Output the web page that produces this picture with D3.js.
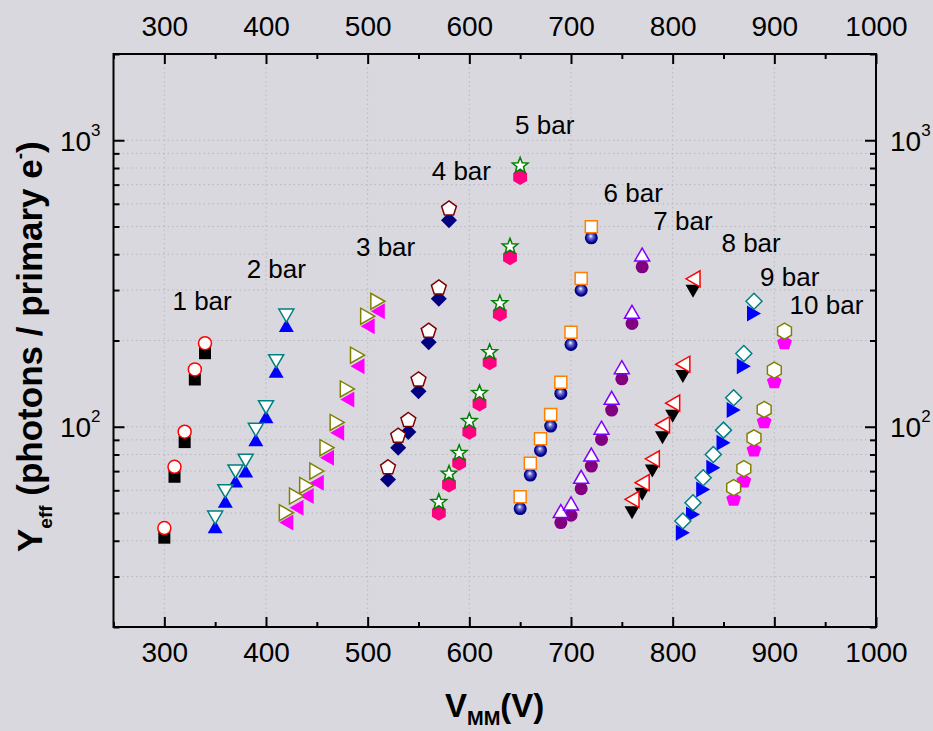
<!DOCTYPE html>
<html>
<head>
<meta charset="utf-8">
<script src="https://cdn.jsdelivr.net/npm/d3@7"></script>
<style>
    html, body { margin: 0; padding: 0; background: #d9d8df; }
    svg { display: block; font-family: "Liberation Sans", Arial, sans-serif; }
</style>
</head>
<body>
<svg id="sketchbook" width="933" height="731"></svg>
<script>
// ---- data ----
let pressures = ['1 bar', '2 bar', '3 bar', '4 bar', '5 bar', '6 bar', '7 bar', '8 bar', '9 bar', '10 bar'];

let voltages = [
    [300, 310, 320, 330, 340],
    [350, 360, 370, 380, 390, 400, 410, 420],
    [420, 430, 440, 450, 460, 470, 480, 490, 500, 510],
    [520, 530, 540, 550, 560, 570, 580],
    [570, 580, 590, 600, 610, 620, 630, 640, 650],
    [650, 660, 670, 680, 690, 700, 710, 720],
    [690, 700, 710, 720, 730, 740, 750, 760, 770],
    [760, 770, 780, 790, 800, 810, 820],
    [810, 820, 830, 840, 850, 860, 870, 880],
    [860, 870, 880, 890, 900, 910]
];

// open symbols (upper series)
let yieldOpen = [
    [44.3, 72.5, 96.1, 158.5, 195.7],
    [48.2, 59.6, 69.8, 76.1, 97.6, 117.0, 169.4, 244.5],
    [50.1, 57.3, 62.4, 70.0, 84.5, 103.5, 135.5, 177.7, 243.1, 274.2],
    [72.5, 93.5, 106.0, 147.0, 217.3, 307.7, 580.5],
    [55.0, 69.1, 81.6, 105.4, 132.0, 183.5, 272.0, 429.0, 822.0],
    [57.0, 74.5, 90.8, 110.4, 143.1, 213.8, 329.0, 498.5],
    [50.8, 54.0, 66.9, 80.0, 99.2, 126.2, 161.4, 251.8, 399.0],
    [55.8, 63.8, 77.3, 101.6, 120.9, 165.3, 328.2],
    [46.9, 54.3, 66.4, 80.0, 97.3, 126.2, 180.2, 274.2],
    [61.3, 71.4, 91.5, 114.9, 157.6, 215.5]
];

// filled symbols (lower series)
let yieldFilled = [
    [41.0, 66.9, 88.4, 146.2, 180.6],
    [44.8, 55.0, 64.6, 70.0, 90.1, 108.4, 156.3, 225.6],
    [46.3, 52.2, 57.3, 63.8, 78.0, 95.3, 124.5, 162.7, 224.3, 253.0],
    [65.5, 84.5, 95.8, 133.1, 197.3, 279.6, 525.6],
    [50.1, 62.9, 74.9, 96.1, 120.6, 168.0, 247.8, 390.5, 744.7],
    [51.8, 67.8, 82.7, 100.5, 130.7, 193.7, 299.5, 456.3],
    [46.3, 49.1, 60.8, 72.9, 90.3, 114.3, 147.0, 229.3, 361.5],
    [50.1, 58.1, 70.0, 91.5, 108.9, 149.7, 297.2],
    [42.7, 49.4, 60.4, 71.9, 87.9, 114.3, 162.7, 248.4],
    [56.1, 65.0, 83.3, 104.6, 144.2, 197.3]
];

// where each pressure label sits (V, Y)
let labelV = [308, 381, 488.5, 563, 645, 732, 781, 848, 886, 915];
let labelY = [256, 331, 394, 729, 1054, 609, 488, 406, 311, 248];

let xMajor = [300, 400, 500, 600, 700, 800, 900, 1000];
let xMinor = [250, 350, 450, 550, 650, 750, 850, 950];
let yMajor = [100, 1000];
let yMinor = [20, 30, 40, 50, 60, 70, 80, 90, 200, 300, 400, 500, 600, 700, 800, 900, 2000];
let yExp = ['2', '3'];

// ---- styles ----
let openShape   = ['circle', 'down', 'right', 'pentagon', 'star', 'square', 'up', 'left', 'diamond', 'hexagon'];
let openColor   = ['#ff0000', '#008080', '#808000', '#800000', '#008000', '#ff8000', '#8000ff', '#ff0000', '#008080', '#808000'];
let filledShape = ['square', 'up', 'left', 'diamond', 'hexagon', 'ball', 'circle', 'down', 'right', 'pentagon'];
let filledColor = ['#000000', '#0000ff', '#ff00ff', '#000080', '#ff0080', '#000080', '#800080', '#000000', '#0000ff', '#ff00ff'];

let W = 933, H = 731;
let L = 113.5, R = 876, T = 54, B = 627;
let FONT = '"Liberation Sans", Arial, sans-serif';

function poly (pts) {
    return 'M' + pts.map((p) => { return p[0].toFixed(2) + ',' + p[1].toFixed(2); }).join('L') + 'Z';
}
function regular (n, r, start) {
    let pts = [];
    for (var i = 0; i < n; i++) {
        let a = start + i * 2 * Math.PI / n;
        pts.push([r * Math.cos(a), r * Math.sin(a)]);
    }
    return pts;
}
function shapePath (type) {
    switch (type) {
        case 'circle':
        case 'ball':
            return 'M-6.5,0A6.5,6.5 0 1,0 6.5,0A6.5,6.5 0 1,0 -6.5,0Z';
        case 'square':
            return poly([[-6, -6], [6, -6], [6, 6], [-6, 6]]);
        case 'up':
            return poly([[0, -6.5], [7.5, 6.5], [-7.5, 6.5]]);
        case 'down':
            return poly([[0, 6.5], [7.5, -6.5], [-7.5, -6.5]]);
        case 'left':
            return poly([[-7, 0], [7, -8], [7, 8]]);
        case 'right':
            return poly([[7, 0], [-7, -8], [-7, 8]]);
        case 'diamond':
            return poly([[0, -8], [8, 0], [0, 8], [-8, 0]]);
        case 'pentagon':
            return poly(regular(5, 7.8, -Math.PI / 2).map((p) => { return [p[0], p[1] + 0.8]; }));
        case 'hexagon':
            return poly(regular(6, 8, -Math.PI / 2));
        case 'star':
            let pts = [];
            for (var i = 0; i < 10; i++) {
                let a = -Math.PI / 2 + i * Math.PI / 5;
                let r = (i % 2 === 0) ? 8.2 : 3.5;
                pts.push([r * Math.cos(a), r * Math.sin(a) + 1]);
            }
            return poly(pts);
    }
}

let svg = d3.select('#sketchbook');

let defs = svg.append('defs');
let grad = defs.append('radialGradient')
    .attr('id', 'ball')
    .attr('cx', '0.5').attr('cy', '0.5').attr('r', '0.55')
    .attr('fx', '0.45').attr('fy', '0.35');
grad.append('stop').attr('offset', '0').attr('stop-color', '#ffffff');
grad.append('stop').attr('offset', '0.3').attr('stop-color', '#6f6fd0');
grad.append('stop').attr('offset', '0.75').attr('stop-color', '#000090');
grad.append('stop').attr('offset', '1').attr('stop-color', '#000060');

svg.append('rect')
    .attr('width', W)
    .attr('height', H)
    .attr('fill', '#d9d8df');

let x = d3.scaleLinear().domain([250, 1000]).range([L, R]);
let y = d3.scaleLog().domain([20, 2000]).range([B, T]);

// ---- grid ----
let grid = svg.append('g').attr('class', 'grid');
grid.selectAll('line.gx')
    .data(xMajor.filter((d) => { return d < 1000; }))
    .enter()
    .append('line')
    .attr('class', 'gx')
    .attr('x1', (d) => { return x(d); })
    .attr('x2', (d) => { return x(d); })
    .attr('y1', T)
    .attr('y2', B)
    .attr('stroke', '#b8b8c0')
    .attr('stroke-width', 1)
    .attr('stroke-dasharray', '1.5,3');
grid.selectAll('line.gy')
    .data(yMajor.concat(yMinor).filter((d) => { return d > 20 && d < 2000; }))
    .enter()
    .append('line')
    .attr('class', 'gy')
    .attr('x1', L)
    .attr('x2', R)
    .attr('y1', (d) => { return y(d); })
    .attr('y2', (d) => { return y(d); })
    .attr('stroke', '#b8b8c0')
    .attr('stroke-width', 1)
    .attr('stroke-dasharray', '1.5,3');

// ---- axes (ticks pointing inward) ----
function tickAxis (axis, values, size, pad) {
    return axis.tickValues(values).tickSizeInner(-size).tickSizeOuter(0).tickPadding(pad);
}
function styleAxis (g) {
    g.select('.domain').remove();
    g.selectAll('.tick line').attr('stroke', '#000').attr('stroke-width', 2);
    g.selectAll('.tick text')
        .attr('fill', '#000')
        .attr('font-family', FONT)
        .attr('font-size', 28);
}

svg.append('g')
    .attr('transform', 'translate(0,' + B + ')')
    .call(tickAxis(d3.axisBottom(x), xMajor, 10, 15).tickFormat(d3.format('d')))
    .call(styleAxis);
svg.append('g')
    .attr('transform', 'translate(0,' + B + ')')
    .call(tickAxis(d3.axisBottom(x), xMinor, 5, 3).tickFormat(''))
    .call(styleAxis);
svg.append('g')
    .attr('transform', 'translate(0,' + T + ')')
    .call(tickAxis(d3.axisTop(x), xMajor, 10, 18).tickFormat(d3.format('d')))
    .call(styleAxis);
svg.append('g')
    .attr('transform', 'translate(0,' + T + ')')
    .call(tickAxis(d3.axisTop(x), xMinor, 5, 3).tickFormat(''))
    .call(styleAxis);
svg.append('g')
    .attr('transform', 'translate(' + L + ',0)')
    .call(tickAxis(d3.axisLeft(y), yMajor, 11, 3).tickFormat(''))
    .call(styleAxis);
svg.append('g')
    .attr('transform', 'translate(' + L + ',0)')
    .call(tickAxis(d3.axisLeft(y), yMinor, 6, 3).tickFormat(''))
    .call(styleAxis);
svg.append('g')
    .attr('transform', 'translate(' + R + ',0)')
    .call(tickAxis(d3.axisRight(y), yMajor, 11, 3).tickFormat(''))
    .call(styleAxis);
svg.append('g')
    .attr('transform', 'translate(' + R + ',0)')
    .call(tickAxis(d3.axisRight(y), yMinor, 6, 3).tickFormat(''))
    .call(styleAxis);

// power-of-ten labels on both sides
[{ xp: L - 13, anchor: 'end' }, { xp: R + 14, anchor: 'start' }].forEach((side) => {
    let t = svg.selectAll(null)
        .data(yMajor)
        .enter()
        .append('text')
        .attr('x', side.xp)
        .attr('y', (d) => { return y(d) + 10.5; })
        .attr('text-anchor', side.anchor)
        .attr('font-family', FONT)
        .attr('font-size', 28)
        .attr('fill', '#000');
    t.append('tspan').text('10');
    t.append('tspan')
        .attr('dy', -15)
        .attr('font-size', 17)
        .text((d, i) => { return yExp[i]; });
});

// frame
svg.append('rect')
    .attr('x', L)
    .attr('y', T)
    .attr('width', R - L)
    .attr('height', B - T)
    .attr('fill', 'none')
    .attr('stroke', '#000')
    .attr('stroke-width', 2);

// ---- markers ----
let series = [];
pressures.forEach((p, i) => {
    series.push({ _id: 'f' + i, shape: filledShape[i], color: filledColor[i], open: false,
                  pts: voltages[i].map((v, j) => { return [v, yieldFilled[i][j]]; }) });
});
pressures.forEach((p, i) => {
    series.push({ _id: 'o' + i, shape: openShape[i], color: openColor[i], open: true,
                  pts: voltages[i].map((v, j) => { return [v, yieldOpen[i][j]]; }) });
});

let marks = svg.append('g').attr('class', 'marks');
series.forEach((s) => {
    marks.selectAll('path.' + s._id)
        .data(s.pts)
        .enter()
        .append('path')
        .attr('class', s._id)
        .attr('transform', (d) => { return 'translate(' + x(d[0]) + ',' + y(d[1]) + ')'; })
        .attr('d', shapePath(s.shape))
        .attr('fill', s.open ? '#ffffff' : (s.shape === 'ball' ? 'url(#ball)' : s.color))
        .attr('stroke', s.open ? s.color : 'none')
        .attr('stroke-width', s.open ? 1.5 : 0);
});

// ---- pressure labels ----
svg.selectAll('text.plabel')
    .data(pressures)
    .enter()
    .append('text')
    .attr('class', 'plabel')
    .attr('x', (d, i) => { return x(labelV[i]); })
    .attr('y', (d, i) => { return y(labelY[i]); })
    .attr('font-family', FONT)
    .attr('font-size', 26)
    .attr('fill', '#000')
    .text((d) => { return d; });

// ---- axis titles ----
let xt = svg.append('text')
    .attr('x', 445)
    .attr('y', 717)
    .attr('font-family', FONT)
    .attr('font-weight', 'bold')
    .attr('font-size', 33)
    .attr('fill', '#000');
xt.append('tspan').text('V');
xt.append('tspan').attr('dy', 8).attr('font-size', 20).text('MM');
xt.append('tspan').attr('dy', -8).text('(V)');

let yt = svg.append('text')
    .attr('transform', 'translate(42,552) rotate(-90)')
    .attr('font-family', FONT)
    .attr('font-weight', 'bold')
    .attr('font-size', 35)
    .attr('fill', '#000');
yt.append('tspan').text('Y');
yt.append('tspan').attr('dy', 10).attr('font-size', 19).text('eff');
yt.append('tspan').attr('dy', -10).text('\u00a0(photons / primary e');
yt.append('tspan').attr('dy', -16).attr('font-size', 19).text('-');
yt.append('tspan').attr('dy', 16).text(')');
</script>
</body>
</html>
